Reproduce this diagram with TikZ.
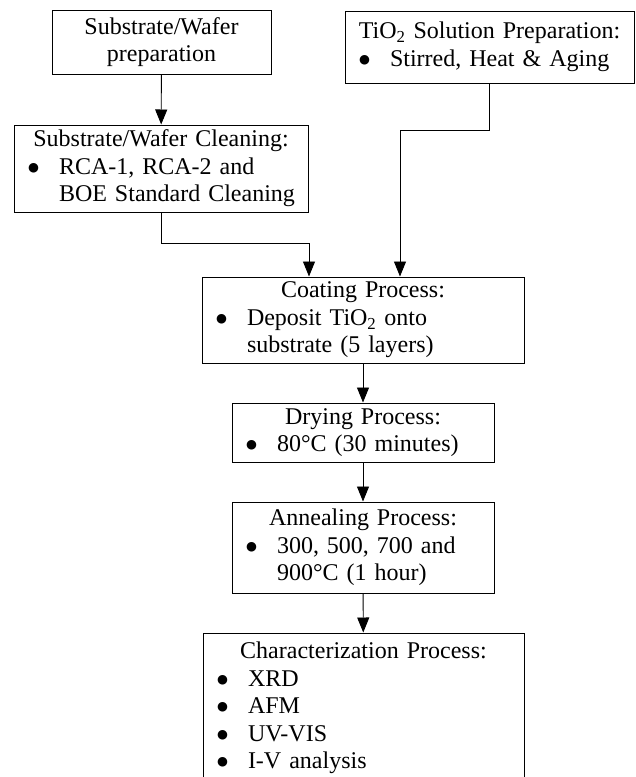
\documentclass[tikz,border=0pt]{standalone}
\usepackage{fontspec}
\setmainfont{Liberation Serif}
\newfontfamily\dotfont{DejaVu Sans}
\usepackage{tikz}
\usetikzlibrary{arrows.meta}
% bullet line and continuation line inside a box
\newcommand{\pdot}{{\dotfont\fontsize{12.5}{12.5}\selectfont\raisebox{3pt}{●}}}
\newcommand{\pitem}[1]{\makebox[\hsize][l]{\hspace{14pt}\makebox[31pt][l]{\pdot}#1}}
\newcommand{\pcont}[1]{\makebox[\hsize][l]{\hspace{45pt}#1}}

\begin{document}
\begin{tikzpicture}[x=1pt,y=1pt,
  stage/.style={draw, line width=1pt, inner sep=0pt, align=center,
    font=\fontsize{24}{27.6}\selectfont},
  flow/.style={line width=0.9pt, -{Triangle[length=15pt,width=12pt]}}]
\useasboundingbox (0,0) rectangle (636,-777);
%
\node[stage, text width=219pt, minimum height=64pt] (prep) at (161.5,-42)
  {Substrate/Wafer\\preparation};
\node[stage, text width=294pt, minimum height=87pt] (clean) at (161,-168.5)
  {Substrate/Wafer Cleaning:\\\pitem{RCA-1, RCA-2 and}\\\pcont{BOE Standard Cleaning}};
\node[stage, text width=289pt, minimum height=72pt] (sol) at (489.5,-47)
  {TiO\textsubscript{2} Solution Preparation:\\\pitem{Stirred, Heat \& Aging}};
%
\node[stage, text width=322pt, minimum height=86pt] (coat) at (363,-320)
  {Coating Process:\\\pitem{Deposit TiO\textsubscript{2} onto}\\\pcont{substrate (5 layers)}};
\node[stage, text width=262pt, minimum height=59pt] (dry) at (363,-432.5)
  {Drying Process:\\\pitem{80°C (30 minutes)}};
\node[stage, text width=262pt, minimum height=91pt] (anneal) at (363,-547.5)
  {Annealing Process:\\\pitem{300, 500, 700 and}\\\pcont{900°C (1 hour)}};
\node[stage, text width=321pt, minimum height=150pt] (char) at (363.5,-708)
  {Characterization Process:\\\pitem{XRD}\\\pitem{AFM}\\\pitem{UV-VIS}\\\pitem{I-V analysis}};
%
\draw[flow] (prep) -- (clean);
\draw[flow] (clean.south) -- ++(0,-31) -| ([xshift=-54pt]coat.north);
\draw[flow] (sol.south) -- ++(0,-47) -| ([xshift=37pt]coat.north);
\draw[flow] (coat) -- (dry);
\draw[flow] (dry) -- (anneal);
\draw[flow] (anneal) -- (char);
\end{tikzpicture}
\end{document}
